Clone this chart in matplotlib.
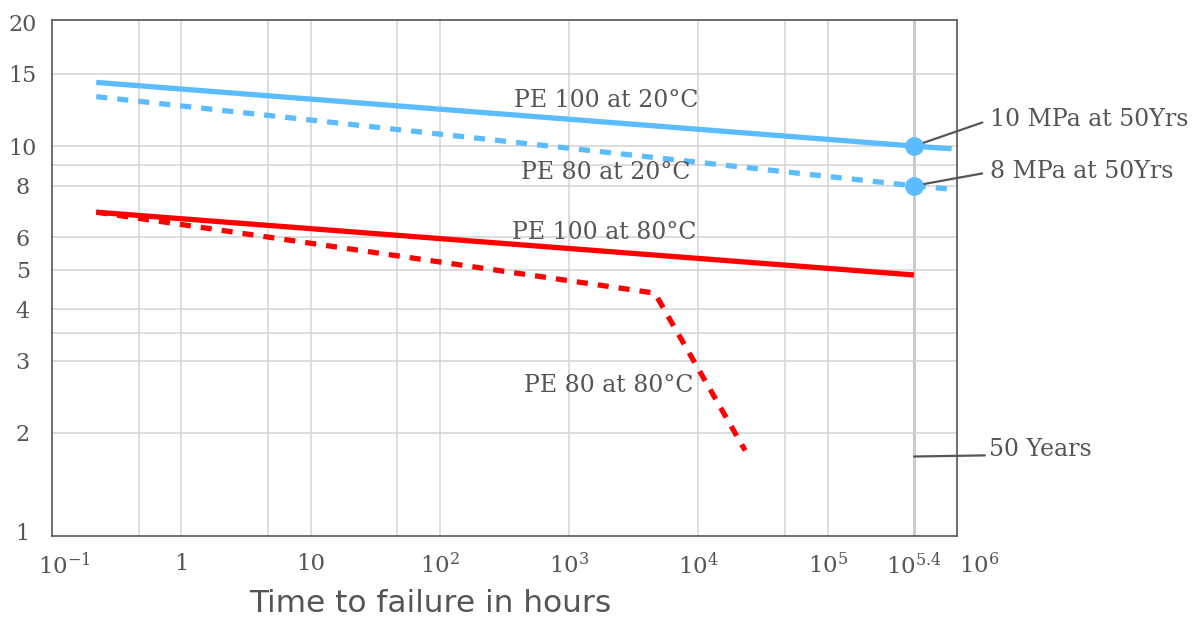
import numpy as np
import matplotlib.pyplot as plt
from matplotlib.ticker import FixedLocator, NullFormatter
from matplotlib.transforms import ScaledTranslation

plt.rcParams['font.family'] = ['DejaVu Serif']
plt.rcParams['mathtext.fontset'] = 'dejavuserif'

# time to failure (hours) vs hoop stress (MPa)
hours_50yrs = 4.65e5

pe100_20_t = [0.22, hours_50yrs, 9.1e5]
pe100_20_mpa = [14.3, 10.0, 9.85]
pe80_20_t = [0.22, hours_50yrs, 9.1e5]
pe80_20_mpa = [13.2, 8.0, 7.85]
pe100_80_t = [0.22, hours_50yrs]
pe100_80_mpa = [6.9, 4.85]
pe80_80_t = [0.22, 4.6e3, 2.3e4]
pe80_80_mpa = [6.9, 4.38, 1.81]

marker_t = [hours_50yrs, hours_50yrs]
marker_mpa = [10, 8]

x_ticks = [0.1, 1, 10, 1e2, 1e3, 1e4, 1e5, hours_50yrs, 1e6]
x_ticklabels = [r'$10^{-1}$', '1', '10', r'$10^{2}$', r'$10^{3}$', r'$10^{4}$',
                r'$10^{5}$', r'$10^{5.4}$', r'$10^{6}$']
x_grid = [0.47, 1, 4.7, 10, 47, 100, 1e3, 1e4, 4.7e4, 1e5]
y_ticks = [1.15, 2, 3, 4, 5, 6, 8, 10, 15, 20]
y_ticklabels = ['1', '2', '3', '4', '5', '6', '8', '10', '15', '20']
y_grid = [2, 3, 3.5, 4, 5, 6, 8, 9, 10, 15]

blue = '#5bbcff'
red = '#ff0000'
txt = '#555555'

fig = plt.figure(figsize=(11.92, 6.21), dpi=100)
ax = fig.add_axes([52/1192, 85/621, 905/1192, 516/621])
ax.set_xscale('log')
ax.set_yscale('log')
ax.set_xlim(0.1, 1e6)
ax.set_ylim(1.12, 20.3)

ax.plot(pe100_20_t, pe100_20_mpa, color=blue, lw=3.8, solid_capstyle='butt')
ax.plot(pe80_20_t, pe80_20_mpa, color=blue, lw=3.8, dashes=(2.1, 1.9))
ax.plot(pe100_80_t, pe100_80_mpa, color=red, lw=3.8, solid_capstyle='butt')
ax.plot(pe80_80_t, pe80_80_mpa, color=red, lw=3.8, dashes=(2.1, 1.9))
ax.plot(marker_t, marker_mpa, 'o', color=blue, ms=12.5, zorder=5)

# ticks and grid (grid drawn from minor ticks, keep the ones on top of majors)
ax.xaxis.remove_overlapping_locs = False
ax.yaxis.remove_overlapping_locs = False
ax.xaxis.set_major_locator(FixedLocator(x_ticks))
ax.set_xticklabels(x_ticklabels)
ax.xaxis.set_minor_locator(FixedLocator(x_grid))
ax.xaxis.set_minor_formatter(NullFormatter())
ax.yaxis.set_major_locator(FixedLocator(y_ticks))
ax.set_yticklabels(y_ticklabels)
ax.yaxis.set_minor_locator(FixedLocator(y_grid))
ax.yaxis.set_minor_formatter(NullFormatter())
ax.tick_params(which='both', length=0, labelcolor=txt)
ax.tick_params(axis='x', pad=12, labelsize=16.5)
ax.tick_params(axis='y', pad=21, labelsize=16)
for lab in ax.get_yticklabels():
    lab.set_ha('center')
# first and last x labels sit a bit to the right in the original
xlabs = ax.get_xticklabels()
for lab, dx in [(xlabs[0], 0.12), (xlabs[-1], 0.22)]:
    lab.set_transform(lab.get_transform() + ScaledTranslation(dx, 0, fig.dpi_scale_trans))

ax.grid(which='minor', color='#d3d3d3', lw=1.1)
ax.axvline(hours_50yrs, color='#cccccc', lw=2.2, zorder=0.5)
ax.set_axisbelow(True)
for s in ax.spines.values():
    s.set_color('#555555')
    s.set_linewidth(1.2)

# line labels
ax.text(1930, 12.95, 'PE 100 at 20°C', ha='center', va='center', fontsize=17, color=txt)
ax.text(1930, 8.6, 'PE 80 at 20°C', ha='center', va='center', fontsize=17, color=txt)
ax.text(1860, 6.17, 'PE 100 at 80°C', ha='center', va='center', fontsize=17, color=txt)
ax.text(2030, 2.61, 'PE 80 at 80°C', ha='center', va='center', fontsize=17, color=txt)

lead = dict(arrowstyle='-', color=txt, lw=1.6, shrinkA=4, shrinkB=0, relpos=(0, 0.5))
ax.annotate('10 MPa at 50Yrs', xy=(hours_50yrs, 10), xytext=(55, 19),
            textcoords='offset points', ha='left', va='center', fontsize=17,
            color=txt, arrowprops=lead, annotation_clip=False)
ax.annotate('8 MPa at 50Yrs', xy=(hours_50yrs, 8), xytext=(55, 10),
            textcoords='offset points', ha='left', va='center', fontsize=17,
            color=txt, arrowprops=lead, annotation_clip=False)
lead50 = dict(lead, relpos=(0, 0.25), shrinkA=1)
ax.annotate('50 Years', xy=(hours_50yrs, 1.75), xytext=(54, 5),
            textcoords='offset points', ha='left', va='center', fontsize=17,
            color=txt, arrowprops=lead50, annotation_clip=False)

fig.text(430/1192, 17/621, 'Time to failure in hours', ha='center', va='center',
         fontsize=22.5, family='DejaVu Sans', color=txt)

fig.savefig('out.png', dpi=100)
